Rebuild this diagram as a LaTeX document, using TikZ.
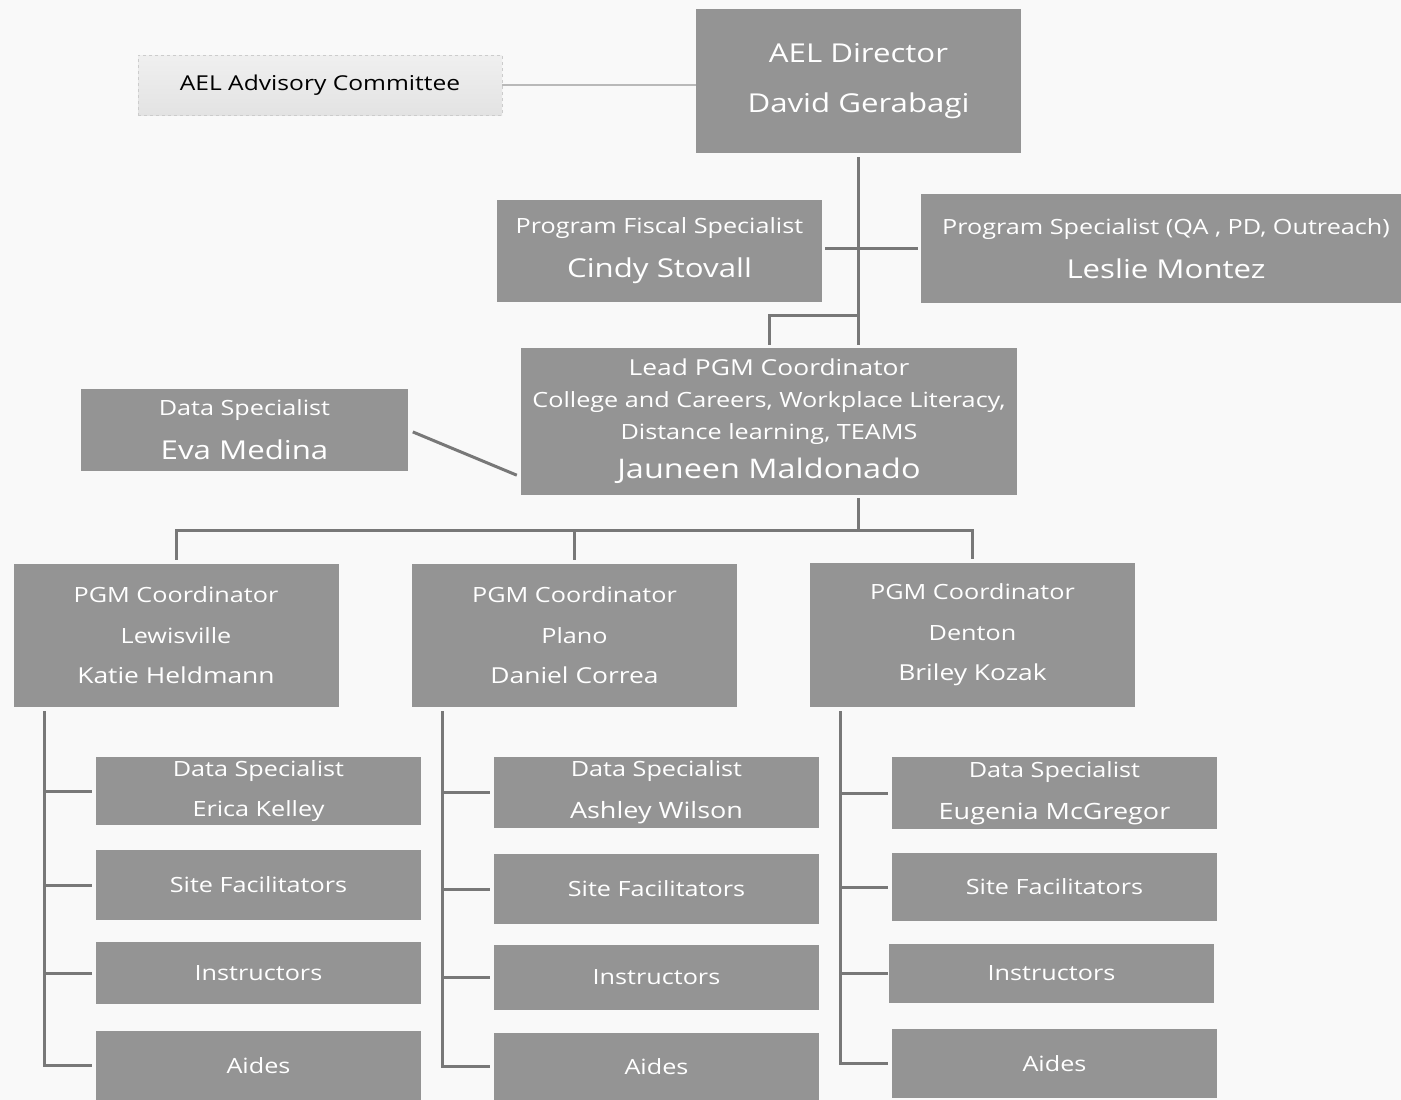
\documentclass[tikz,border=0pt]{standalone}
\usepackage{fontspec}
\setmainfont{Open Sans}[FakeStretch=1.2]
\definecolor{boxgray}{RGB}{148,148,148}
\definecolor{linegray}{RGB}{120,120,120}
\definecolor{paper}{RGB}{249,249,249}
\newcommand\setfs[2]{\fontsize{#1}{#2}\selectfont}
\begin{document}
\begin{tikzpicture}[x=1pt, y=-1pt,
    box/.style={fill=boxgray, text=white, inner sep=0pt, align=center, minimum width=325},
    conn/.style={draw=linegray, line width=3pt},
    thinline/.style={draw=gray!55, line width=1.2pt}]
    \fill[paper] (0,0) rectangle (1401,1100);
    \useasboundingbox (0,0) rectangle (1401,1100);

    \node[draw=gray!40, dashed, top color=gray!12, middle color=gray!36, bottom color=gray!22,
          minimum width=364, minimum height=60, inner sep=0pt, font=\setfs{20.5}{24}] (adv) at (320,85) {AEL Advisory Committee};
    \node[box, minimum height=144, font=\setfs{26}{50}] (dir) at (858.5,81) {AEL Director\\David Gerabagi};
    \node[box, minimum height=102, font=\setfs{21}{44}] (fisc) at (659.5,251) {Program Fiscal Specialist\\{\setfs{26}{44}Cindy Stovall}};
    \node[box, minimum width=490, minimum height=109, font=\setfs{21}{44}] (pspec) at (1166,248.5) {Program Specialist (QA , PD, Outreach)\\{\setfs{26}{44}Leslie Montez}};
    \node[box, minimum width=496, minimum height=147, font=\setfs{21}{32}] (lead) at (769,421.5)
        {{\setfs{22}{32}Lead PGM Coordinator}\\College and Careers, Workplace Literacy,\\Distance learning, TEAMS\\[7pt]{\setfs{27}{32}Jauneen Maldonado}};
    \node[box, minimum width=327, minimum height=82, font=\setfs{21}{44}] (eva) at (244.5,430) {Data Specialist\\{\setfs{26}{44}Eva Medina}};

    \node[box, minimum height=143, font=\setfs{21}{40.5}] (pgm1) at (176,635.5) {PGM Coordinator\\Lewisville\\{\setfs{22}{40.5}Katie Heldmann}};
    \node[box, minimum height=143, font=\setfs{21}{40.5}] (pgm2) at (574.5,635.5) {PGM Coordinator\\Plano\\{\setfs{22}{40.5}Daniel Correa}};
    \node[box, minimum height=144, font=\setfs{21}{40.5}] (pgm3) at (972.5,635) {PGM Coordinator\\Denton\\{\setfs{22}{40.5}Briley Kozak}};

    % Lewisville
    \node[box, minimum height=68, font=\setfs{21}{40}] (ds1) at (258.5,791) {Data Specialist\\Erica Kelley};
    \node[box, minimum height=70, font=\setfs{21}{24}] (sf1) at (258.5,885) {Site Facilitators};
    \node[box, minimum height=62, font=\setfs{21}{24}] (ins1) at (258.5,973) {Instructors};
    \node[box, minimum height=69, font=\setfs{21}{24}] (aid1) at (258.5,1065.5) {Aides};
    % Plano
    \node[box, minimum height=71, font=\setfs{21}{42}] (ds2) at (656.5,792.5) {Data Specialist\\{\setfs{22.5}{42}Ashley Wilson}};
    \node[box, minimum height=70, font=\setfs{21}{24}] (sf2) at (656.5,889) {Site Facilitators};
    \node[box, minimum height=65, font=\setfs{21}{24}] (ins2) at (656.5,977.5) {Instructors};
    \node[box, minimum height=67, font=\setfs{21}{24}] (aid2) at (656.5,1066.5) {Aides};
    % Denton
    \node[box, minimum height=72, font=\setfs{21}{42}] (ds3) at (1054.5,793) {Data Specialist\\{\setfs{22.5}{42}Eugenia McGregor}};
    \node[box, minimum height=68, font=\setfs{21}{24}] (sf3) at (1054.5,887) {Site Facilitators};
    \node[box, minimum height=59, font=\setfs{21}{24}] (ins3) at (1051.5,973.5) {Instructors};
    \node[box, minimum height=69, font=\setfs{21}{24}] (aid3) at (1054.5,1063.5) {Aides};

    \draw[thinline] (adv.east) -- (adv.east -| dir.west);
    \draw[conn, shorten <=4pt, shorten >=3pt] (dir.south) -- (dir.south |- lead.north);
    \draw[conn, shorten <=3pt, shorten >=3pt] (fisc.east |- pspec.west) -- (pspec.west);
    \coordinate (j1) at (858.5,315);
    \draw[conn, shorten >=3pt] (j1) -| (lead.north);
    \draw[conn, shorten <=5pt] (eva.east) -- ([shift={(-4pt,20pt)}]lead.south west);

    \coordinate (j2) at (858.5,530);
    \draw[conn, shorten <=3pt] (lead.south -| dir.south) -- (j2);
    \draw[conn, shorten <=4pt, shorten >=4pt] (pgm1.north) |- (j2) -| (pgm3.north);
    \draw[conn, shorten <=4pt] (pgm2.north) -- (pgm2.north |- j2);

    \coordinate (t1) at ([shift={(31pt,-4pt)}]pgm1.south west);
    \draw[conn, shorten >=4pt] (t1) |- (aid1.west);
    \draw[conn, shorten >=4pt] (t1 |- ds1.west) -- (ds1.west);
    \draw[conn, shorten >=4pt] (t1 |- sf1.west) -- (sf1.west);
    \draw[conn, shorten >=4pt] (t1 |- ins1.west) -- (ins1.west);

    \coordinate (t2) at ([shift={(31pt,-4pt)}]pgm2.south west);
    \draw[conn, shorten >=4pt] (t2) |- (aid2.west);
    \draw[conn, shorten >=4pt] (t2 |- ds2.west) -- (ds2.west);
    \draw[conn, shorten >=4pt] (t2 |- sf2.west) -- (sf2.west);
    \draw[conn, shorten >=4pt] (t2 |- ins2.west) -- (ins2.west);

    \coordinate (t3) at ([shift={(31pt,-4pt)}]pgm3.south west);
    \draw[conn, shorten >=4pt] (t3) |- (aid3.west);
    \draw[conn, shorten >=4pt] (t3 |- ds3.west) -- (ds3.west);
    \draw[conn, shorten >=4pt] (t3 |- sf3.west) -- (sf3.west);
    \draw[conn, shorten >=1pt] (t3 |- ins3.west) -- (ins3.west);
\end{tikzpicture}
\end{document}
